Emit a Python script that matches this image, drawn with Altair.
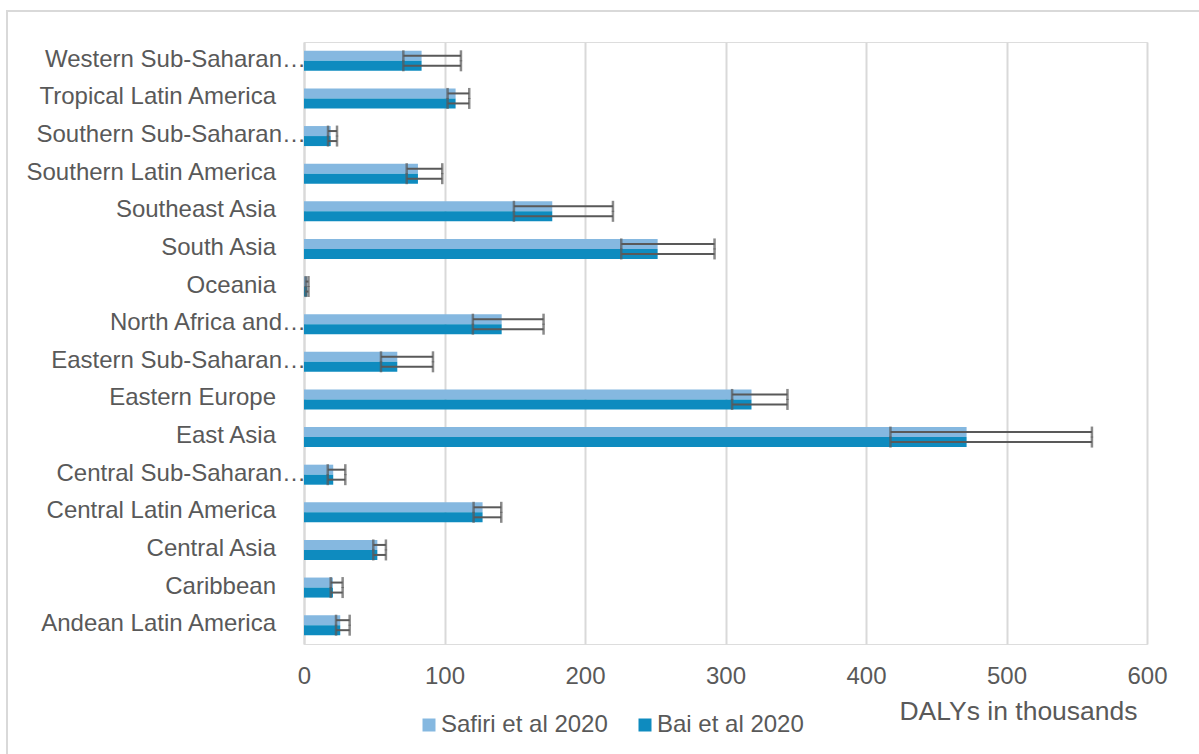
import altair as alt
import pandas as pd

# Regions, top to bottom as listed on the axis
regions = [
    "Western Sub-Saharan…", "Tropical Latin America", "Southern Sub-Saharan…",
    "Southern Latin America", "Southeast Asia", "South Asia", "Oceania",
    "North Africa and…", "Eastern Sub-Saharan…", "Eastern Europe", "East Asia",
    "Central Sub-Saharan…", "Central Latin America", "Central Asia", "Caribbean",
    "Andean Latin America",
]

series_names = ["Safiri et al 2020", "Bai et al 2020"]
series_colors = ["#85B8E0", "#0E8BBF"]

# DALYs (thousands): estimate with lower / upper uncertainty bounds
safiri_val = [83.7, 107.9, 19.0, 81.1, 176.7, 251.7, 2.3, 140.7, 66.4, 318.5, 471.6, 20.8, 127.1, 52.2, 20.6, 25.8]
safiri_low = [70.7, 102.2, 17.1, 73.1, 149.4, 225.8, 1.2, 120.2, 54.8, 304.7, 417.4, 16.9, 120.7, 49.3, 19.0, 22.8]
safiri_high = [111.7, 117.6, 23.5, 98.4, 219.9, 292.2, 3.2, 170.5, 91.8, 344.1, 560.8, 29.4, 140.4, 58.3, 27.5, 32.5]

bai_val = [83.7, 107.9, 19.0, 81.1, 176.7, 251.7, 2.3, 140.7, 66.4, 318.5, 471.6, 20.8, 127.1, 52.2, 20.6, 25.8]
bai_low = [70.7, 102.2, 17.1, 73.1, 149.4, 225.8, 1.2, 120.2, 54.8, 304.7, 417.4, 16.9, 120.7, 49.3, 19.0, 22.8]
bai_high = [111.7, 117.6, 23.5, 98.4, 219.9, 292.2, 3.2, 170.5, 91.8, 344.1, 560.8, 29.4, 140.4, 58.3, 27.5, 32.5]

x_ticks = [0, 100, 200, 300, 400, 500, 600]

rows = []
for name, vals, lows, highs in [
    (series_names[0], safiri_val, safiri_low, safiri_high),
    (series_names[1], bai_val, bai_low, bai_high),
]:
    for r, v, lo, hi in zip(regions, vals, lows, highs):
        rows.append({"region": r, "series": name, "value": v, "low": lo, "high": hi})
df = pd.DataFrame(rows)
labels_df = pd.DataFrame({"region": regions})

FONT = "Liberation Sans"
TEXT = "#595959"
GRID = "#D9D9D9"

y_enc = alt.Y(
    "region:N", sort=regions,
    scale=alt.Scale(paddingInner=0.468, paddingOuter=0.234),
    axis=alt.Axis(labels=False, ticks=False, domain=True, domainColor=GRID,
                  domainWidth=2, grid=False, title=None),
)
yoff_enc = alt.YOffset("series:N", sort=series_names,
                       scale=alt.Scale(paddingInner=0, paddingOuter=0))
x_scale = alt.Scale(domain=[0, 600], nice=False)

bars = alt.Chart(df).mark_bar().encode(
    x=alt.X(
        "value:Q", scale=x_scale,
        axis=alt.Axis(
            values=x_ticks, grid=True, gridColor=GRID, gridWidth=2,
            domain=False, ticks=False, labelFontSize=24, labelColor=TEXT,
            labelFont=FONT, labelPadding=20, labelFlush=False,
            title="DALYs in thousands", titleFont=FONT, titleFontSize=26.5,
            titleFontWeight="normal", titleColor=TEXT, titleAlign="center",
            titleBaseline="alphabetic", titleX=714, titleY=75, titleAngle=0,
        ),
    ),
    y=y_enc,
    yOffset=yoff_enc,
    color=alt.Color(
        "series:N", sort=series_names,
        scale=alt.Scale(domain=series_names, range=series_colors),
        legend=alt.Legend(
            title=None, orient="none", direction="horizontal",
            legendX=113, legendY=671, symbolType="square", symbolSize=169,
            symbolStrokeWidth=0, symbolOpacity=1, labelFontSize=24,
            labelFont=FONT, labelColor=TEXT, labelOffset=0, labelLimit=400,
            columnPadding=25, padding=0,
        ),
    ),
)

whiskers = alt.Chart(df).mark_rule(color="#595959", strokeWidth=2).encode(
    x="low:Q", x2="high:Q", y=y_enc, yOffset=yoff_enc,
)
cap_lo = alt.Chart(df).mark_tick(color="#595959", thickness=2.5, size=11, orient="vertical").encode(
    x="low:Q", y=y_enc, yOffset=yoff_enc,
)
cap_hi = alt.Chart(df).mark_tick(color="#595959", thickness=2.5, size=11, orient="vertical").encode(
    x="high:Q", y=y_enc, yOffset=yoff_enc,
)

# Category labels: names that fit sit clear of the axis, clipped ones run up to it
label_full = alt.Chart(labels_df).transform_filter(
    "!test(/…$/, datum.region)"
).mark_text(align="right", baseline="middle", fontSize=24, font=FONT, color=TEXT, dy=-1).encode(
    y=y_enc, x=alt.value(-28), text="region:N",
)
label_cut = alt.Chart(labels_df).transform_filter(
    "test(/…$/, datum.region)"
).mark_text(align="right", baseline="middle", fontSize=24, font=FONT, color=TEXT, dy=-1).encode(
    y=y_enc, x=alt.value(2), text="region:N",
)

frame = alt.Chart(pd.DataFrame({"k": [0]})).mark_rect(
    fill=None, stroke=GRID, strokeWidth=2
).encode(
    x=alt.value(-297), x2=alt.value(1000), y=alt.value(-31), y2=alt.value(800),
)

chart = alt.layer(frame, bars, whiskers, cap_lo, cap_hi, label_full, label_cut).properties(
    width=843, height=602,
    autosize=alt.AutoSizeParams(type="none"),
    padding={"left": 304, "top": 42, "right": 52, "bottom": 110},
).configure_view(stroke=None).configure(font=FONT)

chart.save("out.html", embed_options={"renderer": "svg", "actions": False})
